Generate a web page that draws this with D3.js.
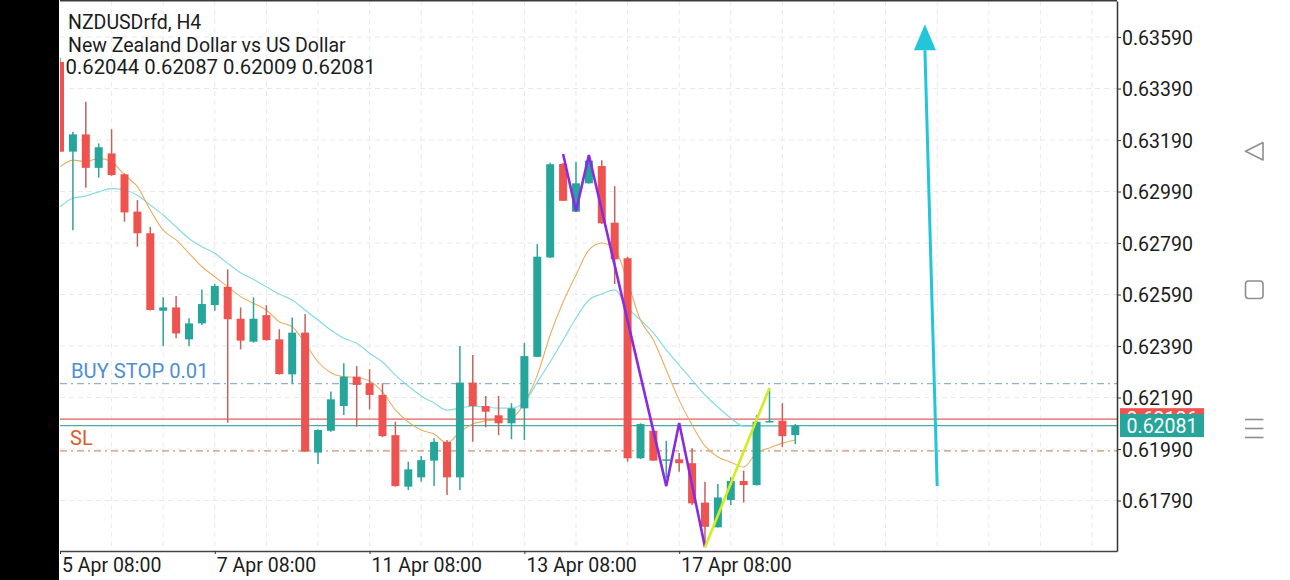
<!DOCTYPE html>
<html>
<head>
<meta charset="utf-8">
<script src="https://d3js.org/d3.v7.min.js"></script>
<style>
  html, body { margin: 0; padding: 0; background: #fff; }
  svg text { font-family: Roboto, "Noto Sans", sans-serif; }
</style>
</head>
<body>
<div id="chart-area"></div>
<script>
// NZDUSD H4 candles
var opens  = [0.63493,0.63145,0.63212,0.63082,0.63138,0.63057,0.62912,0.62828,0.62527,0.62540,
              0.62416,0.62478,0.62549,0.62620,0.62496,0.62407,0.62510,0.62416,0.62280,0.62442,
              0.61976,0.62061,0.62157,0.62271,0.62245,0.62200,0.62044,0.61844,0.61880,0.61945,
              0.62018,0.61880,0.62248,0.62157,0.62121,0.62090,0.62148,0.62348,0.62734,0.63097,
              0.62912,0.63022,0.63089,0.62869,0.62731,0.61954,0.62061,0.61945,0.61950,0.61935,
              0.61782,0.61686,0.61792,0.61866,0.61850,0.62094,0.62100,0.62044];
var highs  = [0.63510,0.63222,0.63339,0.63177,0.63232,0.63061,0.62957,0.62853,0.62579,0.62584,
              0.62498,0.62610,0.62631,0.62688,0.62540,0.62579,0.62549,0.62455,0.62501,0.62514,
              0.62067,0.62213,0.62323,0.62312,0.62300,0.62245,0.62096,0.61941,0.61963,0.62032,
              0.62025,0.62390,0.62355,0.62196,0.62196,0.62168,0.62403,0.62786,0.63102,0.63101,
              0.63106,0.63132,0.63112,0.63011,0.62737,0.62090,0.62064,0.62022,0.61975,0.61993,
              0.61863,0.61854,0.61880,0.61906,0.62122,0.62226,0.62168,0.62087];
var lows   = [0.63143,0.62840,0.63005,0.63044,0.63051,0.62873,0.62776,0.62528,0.62390,0.62420,
              0.62390,0.62472,0.62527,0.62092,0.62377,0.62403,0.62411,0.62279,0.62242,0.61979,
              0.61932,0.62057,0.62122,0.62077,0.62144,0.62036,0.61844,0.61831,0.61863,0.61846,
              0.61811,0.61831,0.62018,0.62074,0.62044,0.62028,0.62025,0.62347,0.62732,0.62953,
              0.62911,0.63020,0.62864,0.62631,0.61941,0.61951,0.61944,0.61877,0.61902,0.61773,
              0.61611,0.61685,0.61773,0.61782,0.61848,0.62093,0.61997,0.62009];
var closes = [0.63145,0.63212,0.63082,0.63162,0.63054,0.62909,0.62828,0.62530,0.62540,0.62439,
              0.62478,0.62553,0.62623,0.62494,0.62411,0.62496,0.62413,0.62281,0.62442,0.61980,
              0.62064,0.62183,0.62271,0.62239,0.62200,0.62040,0.61846,0.61911,0.61947,0.62018,
              0.61880,0.62248,0.62157,0.62135,0.62090,0.62148,0.62351,0.62737,0.63096,0.62954,
              0.63022,0.63110,0.62867,0.62727,0.61954,0.62087,0.61945,0.61950,0.61935,0.61779,
              0.61688,0.61802,0.61866,0.61850,0.62096,0.62099,0.62040,0.62081];

// moving averages (orange = fast, cyan = slow)
var maFast = [0.63086,0.63112,0.63106,0.63119,0.63106,0.63054,0.63009,0.62918,0.62840,0.62802,
              0.62750,0.62698,0.62659,0.62620,0.62582,0.62556,0.62530,0.62484,0.62465,0.62401,
              0.62329,0.62286,0.62271,0.62268,0.62254,0.62211,0.62142,0.62095,0.62064,0.62048,
              0.62013,0.62056,0.62087,0.62099,0.62103,0.62110,0.62169,0.62277,0.62433,0.62561,
              0.62666,0.62763,0.62790,0.62767,0.62639,0.62491,0.62413,0.62297,0.62180,0.62083,
              0.62002,0.61959,0.61939,0.61920,0.61975,0.61994,0.62013,0.62025];
var maSlow = [0.62931,0.62964,0.62973,0.62989,0.63001,0.62996,0.62976,0.62938,0.62899,0.62853,
              0.62808,0.62776,0.62750,0.62711,0.62675,0.62649,0.62620,0.62592,0.62569,0.62530,
              0.62491,0.62452,0.62420,0.62401,0.62362,0.62328,0.62277,0.62235,0.62196,0.62169,
              0.62141,0.62149,0.62157,0.62153,0.62149,0.62149,0.62172,0.62250,0.62328,0.62413,
              0.62499,0.62569,0.62592,0.62608,0.62538,0.62491,0.62441,0.62375,0.62316,0.62258,
              0.62200,0.62153,0.62110,0.62079,0.62079,0.62079,0.62079,0.62079];

var priceTicks = [0.63590,0.63390,0.63190,0.62990,0.62790,0.62590,0.62390,0.62190,0.61990,0.61790];
var dateLabels = ["5 Apr 08:00","7 Apr 08:00","11 Apr 08:00","13 Apr 08:00","17 Apr 08:00"];
var dateIdx    = [0,12,24,36,48];

var headerLines = ["NZDUSDrfd, H4","New Zealand Dollar vs US Dollar","0.62044 0.62087 0.62009 0.62081"];

// price levels
var askPrice = 0.62106, bidPrice = 0.62081;
var buyStopPrice = 0.62244, slPrice = 0.61983;

// hand drawn objects [candle index, price]
var zigzag = [[39,0.63136],[40,0.62914],[41,0.63132],[47,0.61846],[48,0.62091],[50,0.61609]];
var yellowLine = [[50,0.61609],[55,0.62227]];
var arrowPts = [[68.0,0.61846],[67.05,0.63640]];

var W = 1290, H = 580;
var pLeft = 60, pRight = 1117, pTop = 1, pBottom = 551;

var svg = d3.select("#chart-area")
  .append("svg")
    .attr("width", W)
    .attr("height", H);

svg.append("rect").attr("x", 0).attr("y", 0).attr("width", W).attr("height", H).attr("fill", "#fff");
svg.append("rect").attr("x", 0).attr("y", 0).attr("width", 59).attr("height", H).attr("fill", "#000");

var x = d3.scaleLinear().domain([0, 81.94]).range([pLeft, pRight]);
var y = d3.scaleLinear().domain([0.61594, 0.63730]).range([pBottom, pTop]);

svg.append("clipPath").attr("id", "plot-clip")
  .append("rect").attr("x", pLeft).attr("y", pTop).attr("width", pRight - pLeft).attr("height", pBottom - pTop);

var plot = svg.append("g").attr("clip-path", "url(#plot-clip)");

// grid
plot.selectAll(".hgrid").data(priceTicks).enter().append("line")
  .attr("x1", pLeft).attr("x2", pRight)
  .attr("y1", function(d) { return y(d); }).attr("y2", function(d) { return y(d); })
  .attr("stroke", "#e9e9e9").attr("stroke-dasharray", "5,4");
var vgrid = d3.range(4, 82, 4);
plot.selectAll(".vgrid").data(vgrid).enter().append("line")
  .attr("y1", pTop).attr("y2", pBottom)
  .attr("x1", function(d) { return x(d); }).attr("x2", function(d) { return x(d); })
  .attr("stroke", "#e9e9e9").attr("stroke-dasharray", "5,4");

// order levels
plot.append("line").attr("x1", pLeft).attr("x2", pRight)
  .attr("y1", y(buyStopPrice)).attr("y2", y(buyStopPrice))
  .attr("stroke", "#8fb1d2").attr("stroke-width", 1.3).attr("stroke-dasharray", "7,4,2,4");
plot.append("line").attr("x1", pLeft).attr("x2", pRight)
  .attr("y1", y(slPrice)).attr("y2", y(slPrice))
  .attr("stroke", "#c99573").attr("stroke-width", 1.3).attr("stroke-dasharray", "7,4,2,4");
plot.append("line").attr("x1", pLeft).attr("x2", pRight)
  .attr("y1", y(askPrice)).attr("y2", y(askPrice))
  .attr("stroke", "#e2605c").attr("stroke-width", 1.2);
plot.append("line").attr("x1", pLeft).attr("x2", pRight)
  .attr("y1", y(bidPrice)).attr("y2", y(bidPrice))
  .attr("stroke", "#4eaaa6").attr("stroke-width", 1.4);

// moving averages
var maLine = d3.line().x(function(d, i) { return x(i); }).y(function(d) { return y(d); }).curve(d3.curveMonotoneX);
plot.append("path").datum(maSlow).attr("d", maLine)
  .attr("fill", "none").attr("stroke", "#86dbe2").attr("stroke-width", 1.2);
plot.append("path").datum(maFast).attr("d", maLine)
  .attr("fill", "none").attr("stroke", "#e9ae62").attr("stroke-width", 1.1);

// candles
var candles = closes.map(function(c, i) {
  return { i: i, o: opens[i], h: highs[i], l: lows[i], c: c };
});
var bodyW = 8;
var cg = plot.selectAll(".candle").data(candles).enter().append("g");
cg.append("line")
  .attr("x1", function(d) { return x(d.i); }).attr("x2", function(d) { return x(d.i); })
  .attr("y1", function(d) { return y(d.h); }).attr("y2", function(d) { return y(d.l); })
  .attr("stroke", function(d) { return d.c >= d.o ? "#2ea597" : "#c4625d"; })
  .attr("stroke-width", 1.5);
cg.append("rect")
  .attr("x", function(d) { return x(d.i) - bodyW / 2; })
  .attr("width", bodyW)
  .attr("y", function(d) { return y(Math.max(d.o, d.c)); })
  .attr("height", function(d) { return Math.max(1.5, Math.abs(y(d.o) - y(d.c))); })
  .attr("fill", function(d) { return d.c >= d.o ? "#26a69a" : "#ef5350"; });

// zigzag + yellow trend line
var objLine = d3.line().x(function(d) { return x(d[0]); }).y(function(d) { return y(d[1]); });
plot.append("path").datum(zigzag).attr("d", objLine)
  .attr("fill", "none").attr("stroke", "#8a2be2").attr("stroke-width", 2.6).attr("stroke-linejoin", "miter");
plot.append("path").datum(yellowLine).attr("d", objLine)
  .attr("fill", "none").attr("stroke", "#d3ec1e").attr("stroke-width", 2.6);

// cyan arrow
var ax0 = x(arrowPts[0][0]), ay0 = y(arrowPts[0][1]);
var ax1 = x(arrowPts[1][0]), ay1 = y(arrowPts[1][1]);
var headLen = 26, headHalf = 11;
plot.append("line").attr("x1", ax0).attr("y1", ay0).attr("x2", ax1).attr("y2", ay1 + headLen)
  .attr("stroke", "#22c6d9").attr("stroke-width", 3);
plot.append("path")
  .attr("d", "M" + ax1 + "," + ay1 + "L" + (ax1 + headHalf) + "," + (ay1 + headLen) + "L" + (ax1 - headHalf) + "," + (ay1 + headLen) + "Z")
  .attr("fill", "#22c6d9");

// order labels
plot.append("text").attr("x", 71).attr("y", y(buyStopPrice) - 6)
  .attr("font-size", 20.2).attr("fill", "#4d8fd4").text("BUY STOP 0.01");
plot.append("text").attr("x", 70).attr("y", y(slPrice) - 6)
  .attr("font-size", 20).attr("fill", "#d95c2a").text("SL");

// header
svg.selectAll(".hdr").data(headerLines).enter().append("text")
  .attr("x", function(d, i) { return i === 2 ? 65.5 : 68; })
  .attr("y", function(d, i) { return 29 + i * 22.5; })
  .attr("font-size", function(d, i) { return i === 2 ? 20.3 : 19.5; })
  .attr("fill", "#1c1c1c")
  .text(function(d) { return d; });

// frame
svg.append("line").attr("x1", pLeft).attr("x2", pRight).attr("y1", 0.75).attr("y2", 0.75)
  .attr("stroke", "#3a3a3a").attr("stroke-width", 1.5);

// right price axis
var yAxis = d3.axisRight(y).tickValues(priceTicks).tickFormat(d3.format(".5f")).tickSize(4).tickSizeOuter(0).tickPadding(1);
var ya = svg.append("g").attr("transform", "translate(" + pRight + ",0)").call(yAxis);
ya.select(".domain").attr("stroke", "#333").attr("stroke-width", 1.5);
ya.selectAll(".tick line").attr("stroke", "#333");
ya.selectAll(".tick text").attr("font-size", 19.5).attr("fill", "#1c1c1c")
  .attr("font-family", "Roboto, sans-serif").attr("dy", "0.36em");

// bottom time axis
var xAxis = d3.axisBottom(x).tickValues(dateIdx).tickFormat(function(d, i) { return dateLabels[i]; })
  .tickSize(3).tickSizeOuter(0).tickPadding(4);
var xa = svg.append("g").attr("transform", "translate(0," + pBottom + ")").call(xAxis);
xa.select(".domain").attr("stroke", "#444").attr("stroke-width", 1.5);
xa.selectAll(".tick line").attr("stroke", "#333");
xa.selectAll(".tick text").attr("font-size", 19.5).attr("fill", "#1c1c1c")
  .attr("font-family", "Roboto, sans-serif").attr("text-anchor", "start").attr("dx", 1.5);

// price tags on the axis (ask mostly hidden behind bid)
var tagW = 84;
var askTop = y(askPrice) - 11, bidTop = y(bidPrice) - 11.5;
svg.append("clipPath").attr("id", "ask-clip")
  .append("rect").attr("x", pRight + 3).attr("y", askTop).attr("width", tagW).attr("height", bidTop - askTop);
svg.append("rect").attr("x", pRight + 3).attr("y", askTop).attr("width", tagW).attr("height", 22).attr("fill", "#ef5350");
svg.append("text").attr("x", pRight + 3 + tagW / 2).attr("y", y(askPrice) + 7)
  .attr("clip-path", "url(#ask-clip)")
  .attr("text-anchor", "middle").attr("font-size", 19.5).attr("fill", "#fff").text(askPrice.toFixed(5));
svg.append("rect").attr("x", pRight + 3).attr("y", bidTop).attr("width", tagW).attr("height", 23).attr("fill", "#26a69a");
svg.append("text").attr("x", pRight + 3 + tagW / 2).attr("y", y(bidPrice) + 7)
  .attr("text-anchor", "middle").attr("font-size", 19.5).attr("fill", "#fff").text(bidPrice.toFixed(5));

// android nav buttons
var nav = svg.append("g").attr("fill", "none").attr("stroke", "#8e8e8e").attr("stroke-width", 1.6);
nav.append("path").attr("d", "M1263,142.5 L1263,160 L1245.5,151.3 Z").attr("stroke-linejoin", "round");
nav.append("rect").attr("x", 1245.5).attr("y", 281).attr("width", 17.5).attr("height", 17.5).attr("rx", 3);
[419.5, 428.5, 437.5].forEach(function(v) {
  nav.append("line").attr("x1", 1245).attr("x2", 1263.5).attr("y1", v).attr("y2", v);
});
</script>
</body>
</html>
